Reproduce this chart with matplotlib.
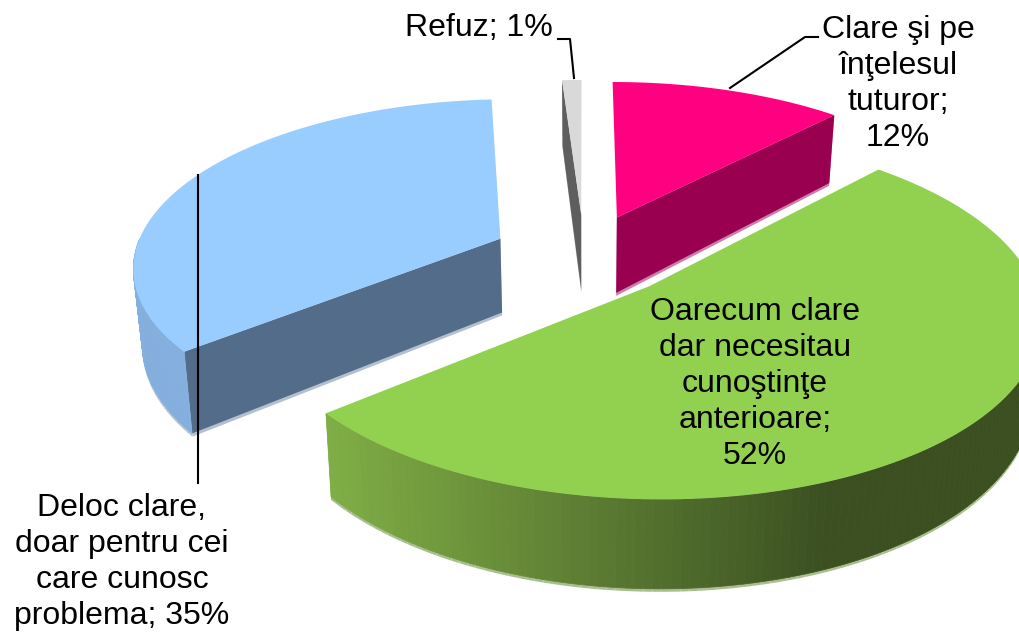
import numpy as np
import matplotlib
matplotlib.use("Agg")
import matplotlib.pyplot as plt
from matplotlib.collections import PolyCollection
from matplotlib.patches import Polygon

# order is clockwise from 12 o'clock
shares = [12, 52, 35, 1]
labels = ["Clare şi pe\nînţelesul\ntuturor;\n12%",
          "Oarecum clare\ndar necesitau\ncunoştinţe\nanterioare;\n52%",
          "Deloc clare,\ndoar pentru cei\ncare cunosc\nproblema; 35%",
          "Refuz; 1%"]
top_colors = ["#FF0080", "#92D050", "#99CCFF", "#D9D9D9"]
face_colors = ["#99004F", "#5F8A30", "#536C8A", "#5E5E5E"]
fringe_colors = ["#CC7FA8", "#A9BD90", "#B4C0CE", "#BBBBBB"]
label_pos = [(898, 84), (755, 384), (122, 562), (479, 28)]
radius = [1.0, 1.012, 0.99, 1.0]
depth = [78, 73, 75, 78]

# pie projection, fitted by eye
CX, CY = 584, 255
RX, RY = 370, 167
PERSP = 0.154
CONVERGE = 0.02
EXPLODE = 0.25


def project(x, y, z=0.0, d=78):
    w = 1 + PERSP * y
    sx = CX + RX * x / w
    sy = CY - RY * y / w + z * d / w
    sx = sx + (CX - sx) * CONVERGE * z
    return np.column_stack([sx, sy])


def green_shade(x):
    # side of the big slice darkens from left to right
    t = np.clip((x - 330) / 500, 0, 1)
    left = np.array([0.50, 0.68, 0.27])
    right = np.array([0.23, 0.31, 0.13])
    return left + (right - left) * t


def draw_slice(ax, a0, a1, idx):
    mid = (a0 + a1) / 2
    ox = EXPLODE * np.sin(mid)
    oy = EXPLODE * np.cos(mid)
    r = radius[idx]
    d = depth[idx]
    ang = np.linspace(a0, a1, 160)
    ex = ox + r * np.sin(ang)
    ey = oy + r * np.cos(ang)

    quads = []
    cols = []
    for i in range(len(ang) - 1):
        if np.cos((ang[i] + ang[i + 1]) / 2) > 0:
            continue
        top = project(ex[i:i + 2], ey[i:i + 2], 0, d)
        bot = project(ex[i:i + 2], ey[i:i + 2], 1, d)
        quads.append(np.vstack([top, bot[::-1]]))
        if idx == 1:
            cols.append(green_shade(top[:, 0].mean()))
        else:
            cols.append("#84AFDE")

    # radial cut faces that look towards the viewer
    faces = []
    if np.sin(a1) > 0 and idx == 0:
        faces.append(a1)
    if np.sin(a0) < 0:
        faces.append(a0)
    for a in faces:
        rx = np.array([ox, ox + r * np.sin(a)])
        ry = np.array([oy, oy + r * np.cos(a)])
        top = project(rx, ry, 0, d)
        bot = project(rx, ry, 1, d)
        low = project(rx, ry, 1.04, d)
        ax.add_patch(Polygon(np.vstack([top, low[::-1]]), closed=True, fc=fringe_colors[idx], ec="none"))
        ax.add_patch(Polygon(np.vstack([top, bot[::-1]]), closed=True, fc=face_colors[idx], ec="none"))

    if quads:
        rim = []
        for q in quads:
            q2 = q.copy()
            q2[2:, 1] += 3
            rim.append(q2)
        ax.add_collection(PolyCollection(rim, facecolors=fringe_colors[idx], edgecolors="none"))
        ax.add_collection(PolyCollection(quads, facecolors=cols, edgecolors=cols, linewidths=0.5))

    outline = project(np.r_[ox, ex], np.r_[oy, ey], 0, d)
    ax.add_patch(Polygon(outline, closed=True, fc=top_colors[idx], ec="none"))


def main():
    plt.rcParams["font.family"] = ["Liberation Sans", "DejaVu Sans"]
    fig = plt.figure(figsize=(10.19, 6.32), dpi=100)
    ax = fig.add_axes([0, 0, 1, 1])
    ax.set_xlim(0, 1019)
    ax.set_ylim(632, 0)
    ax.axis("off")

    edges = np.r_[0, np.cumsum(shares)] / sum(shares) * 2 * np.pi
    for idx in [2, 3, 0, 1]:
        draw_slice(ax, edges[idx], edges[idx + 1], idx)

    # leader lines
    ax.plot([818, 805, 730], [37, 37, 88], color="black", lw=1.5)
    ax.plot([558, 570, 574], [39, 39, 78], color="black", lw=1.5)
    ax.plot([198, 198], [175, 483], color="black", lw=1.5)

    for text, (x, y) in zip(labels, label_pos):
        ax.text(x, y, text, ha="center", va="center", fontsize=23,
                linespacing=1.27, color="black")

    fig.savefig("out.png", dpi=100)


if __name__ == "__main__":
    main()
